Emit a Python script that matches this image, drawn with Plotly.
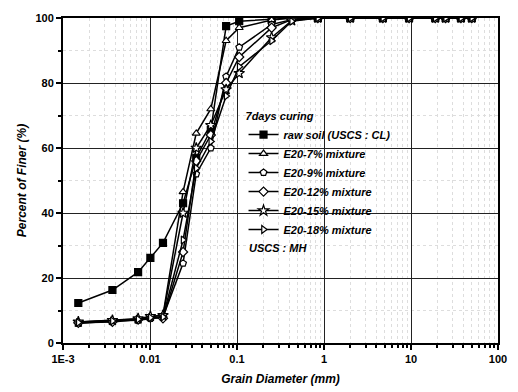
import plotly.graph_objects as go

# Grain diameters (mm): hydrometer + sieve points
diam = [0.0015, 0.0037, 0.0073, 0.0101, 0.0141, 0.024, 0.034, 0.050, 0.075, 0.106,
        0.25, 0.425, 0.85, 2.0, 4.75, 9.5, 19, 25, 37.5, 50]

raw_soil = [12.3, 16.3, 21.8, 26.2, 30.8, 43.0, 57.0, 65.5, 97.5, 99.0,
            99.6, 100, 100, 100, 100, 100, 100, 100, 100, 100]
e20_7 = [6.5, 7.0, 7.4, 8.0, 8.6, 46.5, 64.5, 72.0, 93.0, 97.0,
         99.4, 100, 100, 100, 100, 100, 100, 100, 100, 100]
e20_9 = [6.0, 6.8, 7.0, 7.5, 8.0, 24.5, 52.0, 60.0, 82.0, 91.0,
         98.0, 99.5, 100, 100, 100, 100, 100, 100, 100, 100]
e20_12 = [6.2, 6.5, 7.2, 7.8, 7.6, 28.0, 56.0, 64.0, 80.0, 88.0,
          97.0, 99.5, 100, 100, 100, 100, 100, 100, 100, 100]
e20_15 = [6.5, 7.0, 7.5, 8.2, 8.5, 40.0, 60.0, 67.0, 78.0, 83.0,
          94.0, 99.2, 100, 100, 100, 100, 100, 100, 100, 100]
e20_18 = [6.3, 6.8, 7.3, 7.8, 8.0, 31.7, 53.8, 62.0, 76.0, 85.0,
          93.0, 99.0, 100, 100, 100, 100, 100, 100, 100, 100]

series_names = ["raw soil (USCS : CL)", "E20-7% mixture", "E20-9% mixture",
                "E20-12% mixture", "E20-15% mixture", "E20-18% mixture"]
series_values = [raw_soil, e20_7, e20_9, e20_12, e20_15, e20_18]
symbols = ["square", "triangle-up", "pentagon", "diamond", "star", "triangle-right"]
fills = ["black", "white", "white", "white", "white", "white"]

x_tickvals = [0.001, 0.01, 0.1, 1, 10, 100]
x_ticktext = ["1E-3", "0.01", "0.1", "1", "10", "100"]

FONT = "Arial, Liberation Sans, sans-serif"

fig = go.Figure()
for name, vals, sym, fc in zip(series_names, series_values, symbols, fills):
    fig.add_trace(go.Scatter(
        x=diam, y=vals, name="<b><i>" + name + "</i></b>", mode="lines+markers",
        line=dict(color="black", width=1.5),
        marker=dict(symbol=sym, size=7 if sym != "star" else 8, color=fc,
                    line=dict(color="black", width=1.2)),
    ))

fig.update_layout(
    width=518, height=392,
    margin=dict(l=63, r=20, t=18, b=49),
    paper_bgcolor="white", plot_bgcolor="white",
    font=dict(family=FONT, size=11, color="black"),
    showlegend=True,
    legend=dict(
        x=0.415, y=0.73, xanchor="left", yanchor="top",
        bgcolor="rgba(255,255,255,0)", borderwidth=0,
        title=dict(text="<b><i>7days curing</i></b>", font=dict(size=11, family=FONT)),
        font=dict(size=11, family=FONT),
        itemwidth=30, tracegroupgap=0,
    ),
    xaxis=dict(
        type="log", range=[-3, 2], automargin=False,
        tickvals=x_tickvals, ticktext=["<b>" + t + "</b>" for t in x_ticktext],
        tickfont=dict(size=11, family=FONT),
        ticks="outside", ticklen=5, tickwidth=1.5, tickcolor="black",
        showline=True, linecolor="black", linewidth=2, mirror=True,
        showgrid=True, gridcolor="#222", gridwidth=1,
        zeroline=False,
        minor=dict(ticks="outside", ticklen=3, tickcolor="black",
                   dtick="D1", showgrid=True, gridcolor="#dddddd", griddash="dot"),
        title=dict(text="<b><i>Grain Diameter (mm)</i></b>", font=dict(size=12, family=FONT), standoff=10),
    ),
    yaxis=dict(
        range=[0, 100], automargin=False, tickvals=[0, 20, 40, 60, 80, 100],
        ticktext=["<b>%d</b>" % v for v in [0, 20, 40, 60, 80, 100]],
        tickfont=dict(size=11, family=FONT),
        ticks="outside", ticklen=5, tickwidth=1.5, tickcolor="black",
        showline=True, linecolor="black", linewidth=2, mirror=True,
        showgrid=True, gridcolor="#222", gridwidth=1,
        zeroline=False,
        minor=dict(ticks="outside", ticklen=3, tickcolor="black", dtick=10,
                   showgrid=True, gridcolor="#dddddd", griddash="dot"),
        title=dict(text="<b><i>Percent of Finer (%)</i></b>", font=dict(size=12, family=FONT), standoff=6),
    ),
)

fig.add_annotation(
    xref="paper", yref="paper", x=0.424, y=0.292, xanchor="left", yanchor="middle",
    text="<b><i>USCS : MH</i></b>", showarrow=False, font=dict(size=11, family=FONT),
)

fig.write_html("out.html")
